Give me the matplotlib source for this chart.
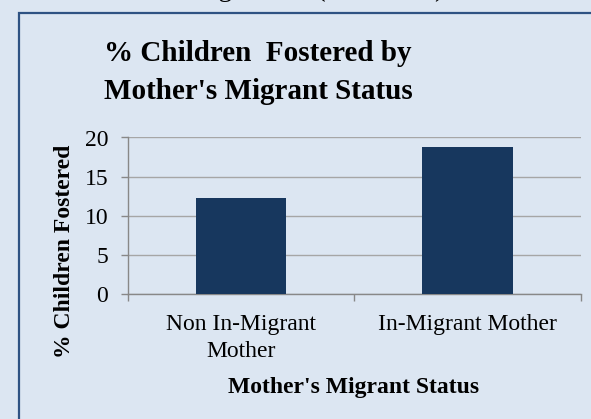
import matplotlib.pyplot as plt
from matplotlib.patches import Rectangle

plt.rcParams["font.family"] = ["Liberation Serif", "DejaVu Serif"]

# data
categories = ["Non In-Migrant\nMother", "In-Migrant Mother"]
pct_fostered = [12.3, 18.8]
y_ticks = [0, 5, 10, 15, 20]

bg = "#dce6f2"
bar_color = "#17375e"
grid_color = "#a6a6a6"

W, H = 591, 419
fig = plt.figure(figsize=(W / 100, H / 100), dpi=100, facecolor=bg)

# frame around the chart
frame = Rectangle((19 / W, -0.2), 1.2, 1 - 13 / H + 0.2, transform=fig.transFigure,
                  fill=False, edgecolor="#2e5283", linewidth=1.6, clip_on=False)
fig.patches.append(frame)

# caption above the frame, cut off by the top edge
fig.text(195 / W, 1 + 4 / H, "Figure 4.1 (continued)", fontsize=20,
         ha="left", va="baseline")

ax = fig.add_axes([127.7 / W, 1 - 294.3 / H, (581 - 127.7) / W, (294.3 - 137.5) / H])
ax.set_facecolor("none")

x = range(len(categories))
ax.bar(x, pct_fostered, width=0.4, color=bar_color, zorder=3)

ax.set_xlim(-0.5, 1.5)
ax.set_ylim(0, 20)
ax.set_yticks(y_ticks)
ax.yaxis.grid(True, color=grid_color, linewidth=1.0, zorder=0)
ax.set_axisbelow(True)

ax.set_xticks(list(x))
ax.set_xticklabels(categories, fontsize=17, linespacing=1.35)
ax.set_xticks([-0.5, 0.5, 1.5], minor=True)
ax.tick_params(axis="x", which="major", length=0, pad=14.5)
ax.tick_params(axis="x", which="minor", length=5, color="#888888", width=1)
ax.tick_params(axis="y", length=5, color="#888888", width=1, pad=9, labelsize=17)

for s in ["top", "right"]:
    ax.spines[s].set_visible(False)
for s in ["left", "bottom"]:
    ax.spines[s].set_color("#888888")
    ax.spines[s].set_linewidth(1)

# title
fig.text(258 / W, 1 - 61 / H, "% Children  Fostered by", fontsize=21,
         fontweight="bold", ha="center", va="baseline")
fig.text(258 / W, 1 - 99 / H, "Mother's Migrant Status", fontsize=21,
         fontweight="bold", ha="center", va="baseline")

# axis labels
fig.text(353.5 / W, 1 - 393 / H, "Mother's Migrant Status", fontsize=17,
         fontweight="bold", ha="center", va="baseline")
fig.text(64 / W, 1 - 251.5 / H, "% Children Fostered", fontsize=17,
         fontweight="bold", ha="center", va="center", rotation=90)

fig.savefig("out.png", dpi=100, facecolor=bg)
